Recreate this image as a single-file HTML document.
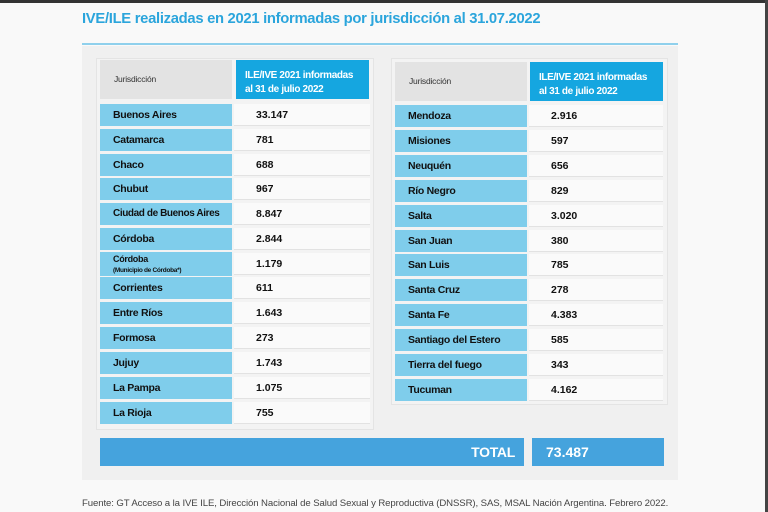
<!DOCTYPE html>
<html><head><meta charset="utf-8"><style>
body{margin:0;width:768px;height:512px;background:#f9f9f9;position:relative;overflow:hidden;font-family:"Liberation Sans",sans-serif}
.a{position:absolute;white-space:nowrap}
.n{position:absolute;white-space:nowrap;background:#7fcdeb;color:#111;font-weight:bold;font-size:10.5px;letter-spacing:-0.3px;height:22px;line-height:22px;padding-left:13px;box-sizing:border-box;overflow:hidden}
.v{position:absolute;background:#fafafa;border-bottom:1px solid #e2e2e2;color:#111;font-weight:bold;font-size:10.5px;height:22px;line-height:22px;padding-left:22px;box-sizing:border-box}
.hg{position:absolute;background:#e3e3e3;font-size:8.5px;letter-spacing:-0.2px;color:#333;box-sizing:border-box;padding-left:14px}
.hb{position:absolute;white-space:nowrap;background:#15a6e0;color:#fff;font-weight:bold;font-size:10px;letter-spacing:-0.35px;line-height:14px;box-sizing:border-box;padding:9px 0 0 9px}
</style></head><body>
<div class="a" style="left:0;top:0;width:768px;height:3px;background:#333"></div>
<div class="a" style="left:765px;top:0;width:3px;height:512px;background:#444"></div>
<div class="a" style="left:82px;top:11px;font-size:14.8px;letter-spacing:-0.3px;font-weight:bold;color:#2ba5dc">IVE/ILE realizadas en 2021 informadas por jurisdicción al 31.07.2022</div>
<div class="a" style="left:82px;top:46px;width:596px;height:434px;background:#f0f0f0"></div>
<div class="a" style="left:82px;top:43px;width:596px;height:2px;background:#8fd0ec"></div>
<div class="a" style="left:96px;top:58px;width:276px;height:370px;background:#f3f3f3;border:1px solid #e4e4e4"></div>
<div class="a" style="left:391px;top:58px;width:275px;height:345px;background:#f3f3f3;border:1px solid #e4e4e4"></div>

<div class="hg" style="left:100px;top:60px;width:132px;height:39px;line-height:39px">Jurisdicción</div>
<div class="hb" style="left:236px;top:60px;width:133px;height:39px">ILE/IVE 2021 informadas<br>al 31 de julio 2022</div>
<div class="hg" style="left:395px;top:62px;width:132px;height:39px;line-height:39px">Jurisdicción</div>
<div class="hb" style="left:530px;top:62px;width:133px;height:39px">ILE/IVE 2021 informadas<br>al 31 de julio 2022</div>

<div class="n" style="left:100px;top:104px;width:132px">Buenos Aires</div><div class="v" style="left:234px;top:104px;width:136px">33.147</div>
<div class="n" style="left:100px;top:129px;width:132px">Catamarca</div><div class="v" style="left:234px;top:129px;width:136px">781</div>
<div class="n" style="left:100px;top:154px;width:132px">Chaco</div><div class="v" style="left:234px;top:154px;width:136px">688</div>
<div class="n" style="left:100px;top:178px;width:132px">Chubut</div><div class="v" style="left:234px;top:178px;width:136px">967</div>
<div class="n" style="left:100px;top:203px;width:132px;font-size:10px;letter-spacing:-0.4px">Ciudad de Buenos Aires</div><div class="v" style="left:234px;top:203px;width:136px">8.847</div>
<div class="n" style="left:100px;top:228px;width:132px">Córdoba</div><div class="v" style="left:234px;top:228px;width:136px">2.844</div>
<div class="n" style="left:100px;top:252px;width:132px;height:24px;line-height:10px;padding-top:2px;font-size:9px">Córdoba<br><span style="font-size:6.5px">(Municipio de Córdoba*)</span></div><div class="v" style="left:234px;top:253px;width:136px">1.179</div>
<div class="n" style="left:100px;top:277px;width:132px">Corrientes</div><div class="v" style="left:234px;top:277px;width:136px">611</div>
<div class="n" style="left:100px;top:302px;width:132px">Entre Ríos</div><div class="v" style="left:234px;top:302px;width:136px">1.643</div>
<div class="n" style="left:100px;top:327px;width:132px">Formosa</div><div class="v" style="left:234px;top:327px;width:136px">273</div>
<div class="n" style="left:100px;top:352px;width:132px">Jujuy</div><div class="v" style="left:234px;top:352px;width:136px">1.743</div>
<div class="n" style="left:100px;top:377px;width:132px">La Pampa</div><div class="v" style="left:234px;top:377px;width:136px">1.075</div>
<div class="n" style="left:100px;top:402px;width:132px">La Rioja</div><div class="v" style="left:234px;top:402px;width:136px">755</div>

<div class="n" style="left:395px;top:105px;width:132px">Mendoza</div><div class="v" style="left:529px;top:105px;width:134px">2.916</div>
<div class="n" style="left:395px;top:130px;width:132px">Misiones</div><div class="v" style="left:529px;top:130px;width:134px">597</div>
<div class="n" style="left:395px;top:155px;width:132px">Neuquén</div><div class="v" style="left:529px;top:155px;width:134px">656</div>
<div class="n" style="left:395px;top:180px;width:132px">Río Negro</div><div class="v" style="left:529px;top:180px;width:134px">829</div>
<div class="n" style="left:395px;top:205px;width:132px">Salta</div><div class="v" style="left:529px;top:205px;width:134px">3.020</div>
<div class="n" style="left:395px;top:230px;width:132px">San Juan</div><div class="v" style="left:529px;top:230px;width:134px">380</div>
<div class="n" style="left:395px;top:254px;width:132px">San Luis</div><div class="v" style="left:529px;top:254px;width:134px">785</div>
<div class="n" style="left:395px;top:279px;width:132px">Santa Cruz</div><div class="v" style="left:529px;top:279px;width:134px">278</div>
<div class="n" style="left:395px;top:304px;width:132px">Santa Fe</div><div class="v" style="left:529px;top:304px;width:134px">4.383</div>
<div class="n" style="left:395px;top:329px;width:132px">Santiago del Estero</div><div class="v" style="left:529px;top:329px;width:134px">585</div>
<div class="n" style="left:395px;top:354px;width:132px">Tierra del fuego</div><div class="v" style="left:529px;top:354px;width:134px">343</div>
<div class="n" style="left:395px;top:379px;width:132px">Tucuman</div><div class="v" style="left:529px;top:379px;width:134px">4.162</div>

<div class="a" style="left:100px;top:438px;width:424px;height:28px;background:#45a3dd;color:#fff;font-weight:bold;font-size:14px;letter-spacing:-0.3px;line-height:28px;text-align:right;box-sizing:border-box;padding-right:9px">TOTAL</div>
<div class="a" style="left:532px;top:438px;width:132px;height:28px;background:#45a3dd;color:#fff;font-weight:bold;font-size:14px;line-height:28px;box-sizing:border-box;padding-left:14px">73.487</div>

<div class="a" style="left:82px;top:498px;font-size:9.6px;letter-spacing:-0.1px;color:#444">Fuente: GT Acceso a la IVE ILE, Dirección Nacional de Salud Sexual y Reproductiva (DNSSR), SAS, MSAL Nación Argentina. Febrero 2022.</div>
</body></html>
